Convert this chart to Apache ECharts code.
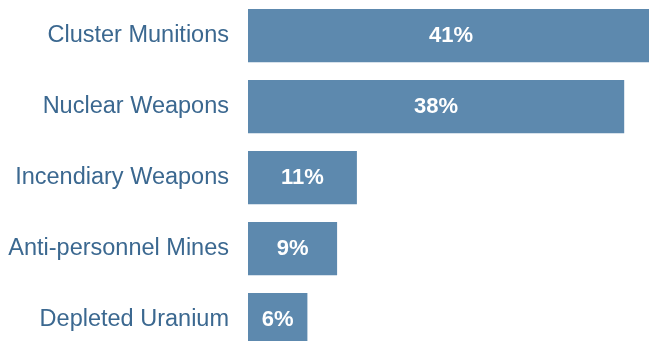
<!DOCTYPE html>
<html>
<head>
<meta charset="utf-8">
<script src="https://cdn.jsdelivr.net/npm/echarts@6/dist/echarts.min.js"></script>
<style>
    html, body { margin: 0; padding: 0; background: #fff; }
    #chart { width: 649px; height: 341px; }
</style>
</head>
<body>
<div id="chart"></div>
<script>
var categories = ['Cluster Munitions', 'Nuclear Weapons', 'Incendiary Weapons', 'Anti-personnel Mines', 'Depleted Uranium'];
var shares = [41, 38, 11, 9, 6];

var myChart = echarts.init(document.getElementById('chart'));
var option = {
    animation: false,
    grid: {
        left: 248,
        top: 0,
        width: 495,
        height: 355,
        containLabel: false,
        outerBoundsMode: 'none'
    },
    xAxis: {
        type: 'value',
        min: 0,
        max: 50,
        show: false
    },
    yAxis: {
        type: 'category',
        inverse: true,
        data: categories,
        axisLine: {show: false},
        axisTick: {show: false},
        axisLabel: {
            margin: 19,
            color: '#3b6890',
            fontSize: 23.5,
            fontFamily: 'Liberation Sans, Arial, sans-serif'
        }
    },
    series: [
        {
            type: 'bar',
            data: shares,
            barCategoryGap: '25%',
            itemStyle: {color: '#5d89ae'},
            label: {
                show: true,
                position: 'inside',
                formatter: '{c}%',
                color: '#fff',
                fontSize: 22,
                fontWeight: 'bold',
                fontFamily: 'Liberation Sans, Arial, sans-serif'
            }
        }
    ]
};
myChart.setOption(option);
</script>
</body>
</html>
